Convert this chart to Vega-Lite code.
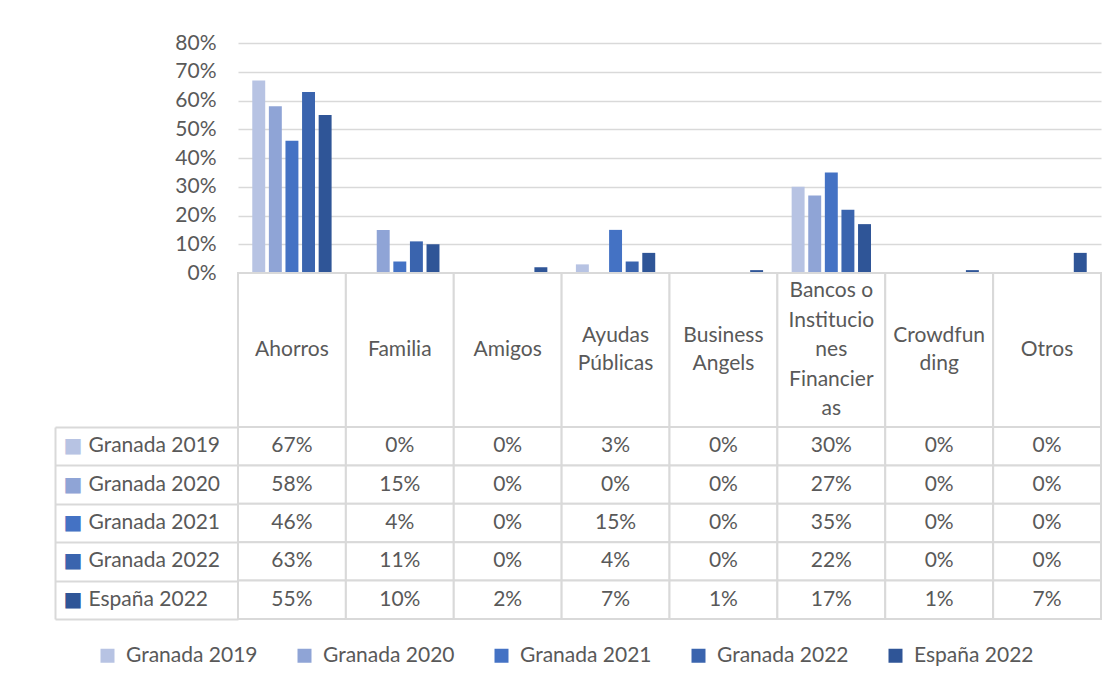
{
  "$schema": "https://vega.github.io/schema/vega-lite/v6.json",
  "background": "white",
  "padding": {"left": 54, "top": 32, "right": 10, "bottom": 5},
  "spacing": 0,
  "bounds": "flush",
  "config": {"view": {"stroke": null}, "font": "Lato"},
  "datasets": {
    "valores": [
      {"fuente": "Ahorros", "serie": "Granada 2019", "valor": 0.67},
      {"fuente": "Familia", "serie": "Granada 2019", "valor": 0},
      {"fuente": "Amigos", "serie": "Granada 2019", "valor": 0},
      {"fuente": "Ayudas Públicas", "serie": "Granada 2019", "valor": 0.03},
      {"fuente": "Business Angels", "serie": "Granada 2019", "valor": 0},
      {"fuente": "Bancos o Instituciones Financieras", "serie": "Granada 2019", "valor": 0.30},
      {"fuente": "Crowdfunding", "serie": "Granada 2019", "valor": 0},
      {"fuente": "Otros", "serie": "Granada 2019", "valor": 0},
      {"fuente": "Ahorros", "serie": "Granada 2020", "valor": 0.58},
      {"fuente": "Familia", "serie": "Granada 2020", "valor": 0.15},
      {"fuente": "Amigos", "serie": "Granada 2020", "valor": 0},
      {"fuente": "Ayudas Públicas", "serie": "Granada 2020", "valor": 0},
      {"fuente": "Business Angels", "serie": "Granada 2020", "valor": 0},
      {"fuente": "Bancos o Instituciones Financieras", "serie": "Granada 2020", "valor": 0.27},
      {"fuente": "Crowdfunding", "serie": "Granada 2020", "valor": 0},
      {"fuente": "Otros", "serie": "Granada 2020", "valor": 0},
      {"fuente": "Ahorros", "serie": "Granada 2021", "valor": 0.46},
      {"fuente": "Familia", "serie": "Granada 2021", "valor": 0.04},
      {"fuente": "Amigos", "serie": "Granada 2021", "valor": 0},
      {"fuente": "Ayudas Públicas", "serie": "Granada 2021", "valor": 0.15},
      {"fuente": "Business Angels", "serie": "Granada 2021", "valor": 0},
      {"fuente": "Bancos o Instituciones Financieras", "serie": "Granada 2021", "valor": 0.35},
      {"fuente": "Crowdfunding", "serie": "Granada 2021", "valor": 0},
      {"fuente": "Otros", "serie": "Granada 2021", "valor": 0},
      {"fuente": "Ahorros", "serie": "Granada 2022", "valor": 0.63},
      {"fuente": "Familia", "serie": "Granada 2022", "valor": 0.11},
      {"fuente": "Amigos", "serie": "Granada 2022", "valor": 0},
      {"fuente": "Ayudas Públicas", "serie": "Granada 2022", "valor": 0.04},
      {"fuente": "Business Angels", "serie": "Granada 2022", "valor": 0},
      {"fuente": "Bancos o Instituciones Financieras", "serie": "Granada 2022", "valor": 0.22},
      {"fuente": "Crowdfunding", "serie": "Granada 2022", "valor": 0},
      {"fuente": "Otros", "serie": "Granada 2022", "valor": 0},
      {"fuente": "Ahorros", "serie": "España 2022", "valor": 0.55},
      {"fuente": "Familia", "serie": "España 2022", "valor": 0.10},
      {"fuente": "Amigos", "serie": "España 2022", "valor": 0.02},
      {"fuente": "Ayudas Públicas", "serie": "España 2022", "valor": 0.07},
      {"fuente": "Business Angels", "serie": "España 2022", "valor": 0.01},
      {"fuente": "Bancos o Instituciones Financieras", "serie": "España 2022", "valor": 0.17},
      {"fuente": "Crowdfunding", "serie": "España 2022", "valor": 0.01},
      {"fuente": "Otros", "serie": "España 2022", "valor": 0.07}
    ],
    "cabeceras": [
      {"fuente": "Ahorros", "cabecera": "Ahorros"},
      {"fuente": "Familia", "cabecera": "Familia"},
      {"fuente": "Amigos", "cabecera": "Amigos"},
      {"fuente": "Ayudas Públicas", "cabecera": "Ayudas|Públicas"},
      {"fuente": "Business Angels", "cabecera": "Business|Angels"},
      {"fuente": "Bancos o Instituciones Financieras", "cabecera": "Bancos o|Institucio|nes|Financier|as"},
      {"fuente": "Crowdfunding", "cabecera": "Crowdfun|ding"},
      {"fuente": "Otros", "cabecera": "Otros"}
    ]
  },
  "vconcat": [
    {
      "width": 863,
      "height": 230,
      "data": {"name": "valores"},
      "mark": {"type": "bar"},
      "encoding": {
        "x": {"field": "fuente", "type": "nominal", "sort": ["Ahorros", "Familia", "Amigos", "Ayudas Públicas", "Business Angels", "Bancos o Instituciones Financieras", "Crowdfunding", "Otros"], "scale": {"domain": ["Ahorros", "Familia", "Amigos", "Ayudas Públicas", "Business Angels", "Bancos o Instituciones Financieras", "Crowdfunding", "Otros"], "paddingInner": 0, "paddingOuter": 0}, "axis": null},
        "xOffset": {"field": "serie", "type": "nominal", "sort": ["Granada 2019", "Granada 2020", "Granada 2021", "Granada 2022", "España 2022"], "scale": {"domain": ["Granada 2019", "Granada 2020", "Granada 2021", "Granada 2022", "España 2022"], "paddingInner": 0.22, "paddingOuter": 0.86}},
        "y": {"field": "valor", "type": "quantitative", "scale": {"domain": [0, 0.8], "nice": false},
          "axis": {"values": [0, 0.1, 0.2, 0.3, 0.4, 0.5, 0.6, 0.7, 0.8], "format": ".0%", "domain": false, "ticks": false, "grid": true, "gridColor": "#D9D9D9", "gridWidth": 1.5, "labelPadding": 22, "labelFont": "Lato", "labelFontSize": 21, "labelColor": "#595959", "title": null}},
        "color": {"field": "serie", "type": "nominal", "sort": ["Granada 2019", "Granada 2020", "Granada 2021", "Granada 2022", "España 2022"],
          "scale": {"domain": ["Granada 2019", "Granada 2020", "Granada 2021", "Granada 2022", "España 2022"], "range": ["#B7C3E3", "#8FA4D6", "#4472C4", "#3A64AE", "#2F5597"]},
          "legend": {"orient": "none", "legendX": -141, "legendY": 602, "direction": "horizontal", "title": null, "symbolType": "square", "symbolSize": 196, "symbolStrokeWidth": 0, "labelFont": "Lato", "labelFontSize": 21, "labelColor": "#595959", "labelOffset": 8, "columnPadding": 36}}
      }
    },
    {
      "width": 863,
      "height": 154,
      "data": {"name": "cabeceras"},
      "layer": [
        {
          "mark": {"type": "rect", "fill": "white", "stroke": "#D9D9D9", "strokeWidth": 2},
          "encoding": {
            "x": {"field": "fuente", "type": "nominal", "sort": ["Ahorros", "Familia", "Amigos", "Ayudas Públicas", "Business Angels", "Bancos o Instituciones Financieras", "Crowdfunding", "Otros"], "scale": {"domain": ["Ahorros", "Familia", "Amigos", "Ayudas Públicas", "Business Angels", "Bancos o Instituciones Financieras", "Crowdfunding", "Otros"], "paddingInner": 0, "paddingOuter": 0}, "axis": null}
          }
        },
        {
          "transform": [{"filter": "split(datum.cabecera, '|').length == 1"}],
          "mark": {"type": "text", "font": "Lato", "fontSize": 21, "color": "#595959", "lineBreak": "|", "lineHeight": 29.5, "baseline": "middle"},
          "encoding": {
            "x": {"field": "fuente", "type": "nominal", "sort": ["Ahorros", "Familia", "Amigos", "Ayudas Públicas", "Business Angels", "Bancos o Instituciones Financieras", "Crowdfunding", "Otros"], "axis": null},
            "text": {"field": "cabecera"}
          }
        },
        {
          "transform": [{"filter": "split(datum.cabecera, '|').length == 2"}],
          "mark": {"type": "text", "font": "Lato", "fontSize": 21, "color": "#595959", "lineBreak": "|", "lineHeight": 28, "baseline": "middle", "dy": -14},
          "encoding": {
            "x": {"field": "fuente", "type": "nominal", "sort": ["Ahorros", "Familia", "Amigos", "Ayudas Públicas", "Business Angels", "Bancos o Instituciones Financieras", "Crowdfunding", "Otros"], "axis": null},
            "text": {"field": "cabecera"}
          }
        },
        {
          "transform": [{"filter": "split(datum.cabecera, '|').length == 5"}],
          "mark": {"type": "text", "font": "Lato", "fontSize": 21, "color": "#595959", "lineBreak": "|", "lineHeight": 29.5, "baseline": "middle", "dy": -59},
          "encoding": {
            "x": {"field": "fuente", "type": "nominal", "sort": ["Ahorros", "Familia", "Amigos", "Ayudas Públicas", "Business Angels", "Bancos o Instituciones Financieras", "Crowdfunding", "Otros"], "axis": null},
            "text": {"field": "cabecera"}
          }
        }
      ]
    },
    {
      "width": 863,
      "height": 192,
      "data": {"name": "valores"},
      "resolve": {"axis": {"y": "independent"}},
      "layer": [
        {
          "mark": {"type": "rect", "fill": "white", "stroke": "#D9D9D9", "strokeWidth": 2},
          "encoding": {
            "x": {"field": "fuente", "type": "nominal", "sort": ["Ahorros", "Familia", "Amigos", "Ayudas Públicas", "Business Angels", "Bancos o Instituciones Financieras", "Crowdfunding", "Otros"], "scale": {"domain": ["Ahorros", "Familia", "Amigos", "Ayudas Públicas", "Business Angels", "Bancos o Instituciones Financieras", "Crowdfunding", "Otros"], "paddingInner": 0, "paddingOuter": 0}, "axis": null},
            "y": {"field": "serie", "type": "nominal", "sort": ["Granada 2019", "Granada 2020", "Granada 2021", "Granada 2022", "España 2022"], "scale": {"domain": ["Granada 2019", "Granada 2020", "Granada 2021", "Granada 2022", "España 2022"], "paddingInner": 0, "paddingOuter": 0},
              "axis": {"orient": "left", "offset": 183, "domain": true, "domainColor": "#D9D9D9", "domainWidth": 2, "ticks": true, "tickSize": -183, "tickBand": "extent", "tickColor": "#D9D9D9", "tickWidth": 2, "labels": false, "grid": false, "title": null}}
          }
        },
        {
          "mark": {"type": "text", "font": "Lato", "fontSize": 21, "color": "#595959", "baseline": "middle"},
          "encoding": {
            "x": {"field": "fuente", "type": "nominal", "sort": ["Ahorros", "Familia", "Amigos", "Ayudas Públicas", "Business Angels", "Bancos o Instituciones Financieras", "Crowdfunding", "Otros"], "axis": null},
            "y": {"field": "serie", "type": "nominal", "sort": ["Granada 2019", "Granada 2020", "Granada 2021", "Granada 2022", "España 2022"],
              "axis": {"orient": "left", "domain": false, "ticks": false, "tickSize": 0, "labelAlign": "left", "labelPadding": 150, "labelFont": "Lato", "labelFontSize": 21, "labelColor": "#595959", "labelLimit": 200, "grid": false, "title": null}},
            "text": {"field": "valor", "type": "quantitative", "format": ".0%"}
          }
        },
        {
          "mark": {"type": "point", "opacity": 0},
          "encoding": {
            "x": {"field": "fuente", "type": "nominal", "sort": ["Ahorros", "Familia", "Amigos", "Ayudas Públicas", "Business Angels", "Bancos o Instituciones Financieras", "Crowdfunding", "Otros"], "axis": null},
            "y": {"field": "serie", "type": "nominal", "sort": ["Granada 2019", "Granada 2020", "Granada 2021", "Granada 2022", "España 2022"],
              "axis": {"orient": "left", "domain": false, "ticks": false, "tickSize": 0, "labelExpr": "'■'", "labelAlign": "left", "labelPadding": 175, "labelFont": "DejaVu Sans", "labelFontSize": 20,
                "labelColor": {"condition": [
                  {"test": "datum.value === 'Granada 2019'", "value": "#B7C3E3"},
                  {"test": "datum.value === 'Granada 2020'", "value": "#8FA4D6"},
                  {"test": "datum.value === 'Granada 2021'", "value": "#4472C4"},
                  {"test": "datum.value === 'Granada 2022'", "value": "#3A64AE"}
                ], "value": "#2F5597"},
                "grid": false, "title": null}}
          }
        }
      ]
    }
  ]
}
